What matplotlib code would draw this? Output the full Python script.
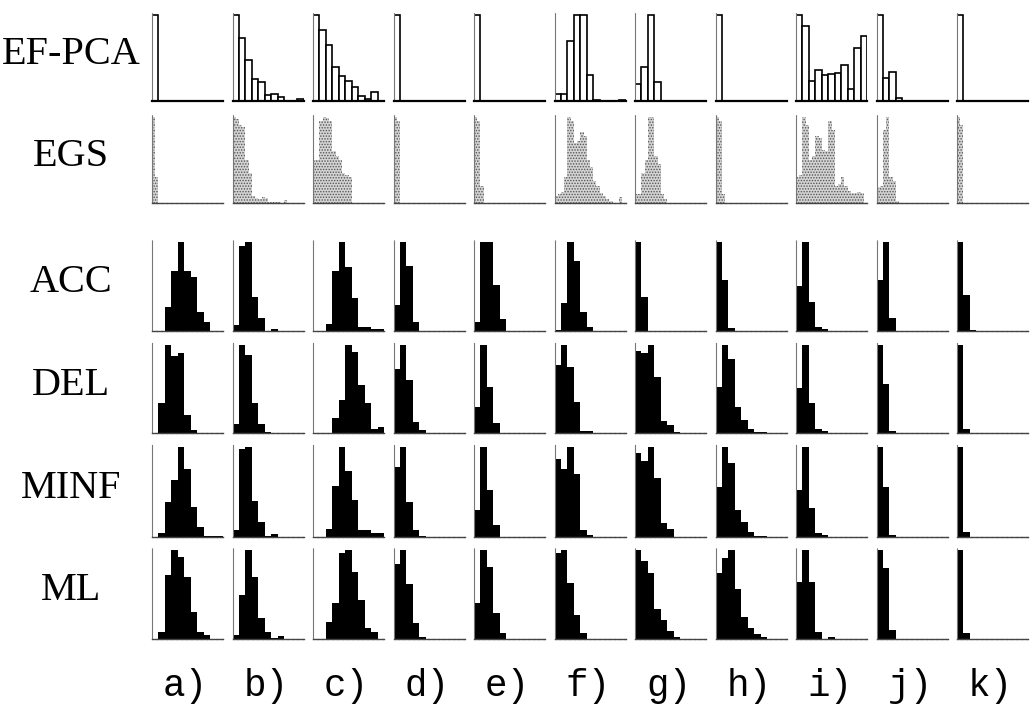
import numpy as np
import matplotlib.pyplot as plt

plt.rcParams['hatch.linewidth'] = 0.7

# row / column labels
methods = ['EF-PCA', 'EGS', 'ACC', 'DEL', 'MINF', 'ML']
columns = ['a)', 'b)', 'c)', 'd)', 'e)', 'f)', 'g)', 'h)', 'i)', 'j)', 'k)']

# relative bin heights (tallest bin = 1), 11 bins per panel
ef_pca = [
    [1.0, 0, 0, 0, 0, 0, 0, 0, 0, 0, 0],
    [1.0, 0.735, 0.47, 0.25, 0.22, 0.07, 0.085, 0.045, 0, 0, 0.02],
    [1.0, 0.82, 0.65, 0.39, 0.29, 0.235, 0.167, 0.057, 0.027, 0.10, 0],
    [1.0, 0, 0, 0, 0, 0, 0, 0, 0, 0, 0],
    [1.0, 0, 0, 0, 0, 0, 0, 0, 0, 0, 0],
    [0.083, 0.083, 0.69, 1.0, 1.0, 0.30, 0.015, 0, 0, 0, 0.015],
    [0.2, 0.39, 1.0, 0.22, 0, 0, 0, 0, 0, 0, 0],
    [1.0, 0, 0, 0, 0, 0, 0, 0, 0, 0, 0],
    [1.0, 0.87, 0.235, 0.356, 0.30, 0.31, 0.33, 0.42, 0.14, 0.62, 0.75],
    [1.0, 0.265, 0.34, 0.04, 0, 0, 0, 0, 0, 0, 0],
    [1.0, 0, 0, 0, 0, 0, 0, 0, 0, 0, 0],
]

# EGS uses finer bins (22 per panel)
egs = [
    [1.0, 0.3] + [0] * 20,
    [1.0, 0.97, 0.9, 0.88, 0.5, 0.35, 0.08, 0.06, 0.05, 0.07, 0.06,
     0.01, 0.01, 0.01, 0.01, 0, 0.03, 0, 0, 0, 0, 0],
    [0.5, 0.5, 0.95, 1.0, 0.98, 0.95, 0.6, 0.55, 0.5, 0.35, 0.33,
     0.3, 0, 0, 0, 0, 0, 0, 0, 0, 0, 0],
    [1.0, 0.95] + [0] * 20,
    [1.0, 0.95, 0.2] + [0] * 19,
    [0.08, 0.1, 0.13, 0.3, 1.0, 0.95, 0.7, 0.72, 0.82, 0.78, 0.5,
     0.42, 0.25, 0.2, 0.12, 0.08, 0.05, 0.02, 0, 0, 0.07, 0],
    [0.1, 0.1, 0.35, 0.5, 1.0, 1.0, 0.55, 0.45, 0.1, 0.05, 0,
     0, 0, 0, 0, 0, 0, 0, 0, 0, 0, 0],
    [1.0, 0.95, 0.1] + [0] * 19,
    [0.3, 0.32, 1.0, 0.9, 0.5, 0.55, 0.78, 0.75, 0.62, 0.6, 0.95,
     0.85, 0.2, 0.22, 0.3, 0.2, 0.14, 0.12, 0.12, 0.13, 0.12, 0],
    [0.18, 0.2, 0.85, 1.0, 0.3, 0.25, 0.02] + [0] * 15,
    [1.0, 0.9] + [0] * 20,
]

acc = [
    [0, 0, 0.27, 0.67, 1.0, 0.67, 0.6, 0.21, 0.1, 0, 0],
    [0.07, 0.95, 1.0, 0.385, 0.143, 0, 0.02, 0, 0, 0, 0],
    [0, 0, 0.075, 0.67, 1.0, 0.72, 0.37, 0.05, 0.05, 0.025, 0.02],
    [0.29, 1.0, 0.73, 0.1, 0, 0, 0, 0, 0, 0, 0],
    [0.1, 1.0, 1.0, 0.52, 0.13, 0, 0, 0, 0, 0, 0],
    [0.015, 0.31, 1.0, 0.78, 0.215, 0.04, 0, 0, 0, 0, 0],
    [1.0, 0.385, 0, 0, 0, 0, 0, 0, 0, 0, 0],
    [1.0, 0.57, 0.03, 0, 0, 0, 0, 0, 0, 0, 0],
    [0.5, 1.0, 0.32, 0.04, 0.02, 0, 0, 0, 0, 0, 0],
    [0.57, 1.0, 0.15, 0, 0, 0, 0, 0, 0, 0, 0],
    [1.0, 0.4, 0.015, 0, 0, 0, 0, 0, 0, 0, 0],
]

dele = [
    [0, 0.335, 1.0, 0.875, 0.91, 0.2, 0.03, 0, 0, 0, 0],
    [0.1, 1.0, 0.885, 0.335, 0.1, 0.01, 0, 0, 0, 0, 0],
    [0, 0, 0, 0.17, 0.37, 1.0, 0.92, 0.54, 0.335, 0.04, 0.07],
    [0.72, 1.0, 0.6, 0.13, 0.03, 0, 0, 0, 0, 0, 0],
    [0.3, 1.0, 0.525, 0.115, 0, 0, 0, 0, 0, 0, 0],
    [0.77, 1.0, 0.75, 0.35, 0.02, 0.02, 0, 0, 0, 0, 0],
    [0.935, 0.91, 1.0, 0.64, 0.137, 0.095, 0.01, 0, 0, 0, 0],
    [0.525, 1.0, 0.835, 0.3, 0.15, 0.04, 0.01, 0.01, 0, 0, 0],
    [0.515, 1.0, 0.335, 0.04, 0.02, 0, 0, 0, 0, 0, 0],
    [1.0, 0.555, 0.02, 0, 0, 0, 0, 0, 0, 0, 0],
    [1.0, 0.04, 0, 0, 0, 0, 0, 0, 0, 0, 0],
]

minf = [
    [0, 0.04, 0.39, 0.635, 1.0, 0.75, 0.33, 0.11, 0.01, 0.01, 0.01],
    [0.08, 0.98, 1.0, 0.4, 0.17, 0.01, 0.03, 0, 0, 0, 0],
    [0, 0, 0.09, 0.56, 1.0, 0.73, 0.415, 0.074, 0.074, 0.045, 0.045],
    [0.78, 1.0, 0.39, 0.074, 0.01, 0, 0, 0, 0, 0, 0],
    [0.3, 1.0, 0.525, 0.13, 0, 0, 0, 0, 0, 0, 0],
    [0.87, 0.75, 1.0, 0.70, 0.08, 0.026, 0, 0, 0, 0, 0],
    [0.926, 0.845, 1.0, 0.65, 0.15, 0.09, 0, 0, 0, 0, 0],
    [0.555, 1.0, 0.82, 0.30, 0.167, 0.055, 0.01, 0.01, 0, 0, 0],
    [0.525, 1.0, 0.326, 0.044, 0.026, 0, 0, 0, 0, 0, 0],
    [1.0, 0.555, 0.02, 0, 0, 0, 0, 0, 0, 0, 0],
    [1.0, 0.055, 0, 0, 0, 0, 0, 0, 0, 0, 0],
]

ml = [
    [0, 0.075, 0.714, 1.0, 0.92, 0.695, 0.305, 0.075, 0.045, 0, 0],
    [0.05, 0.49, 1.0, 0.695, 0.24, 0.075, 0.015, 0.033, 0, 0, 0],
    [0, 0, 0.19, 0.4, 0.96, 1.0, 0.75, 0.435, 0.12, 0.08, 0],
    [0.845, 1.0, 0.62, 0.175, 0.025, 0, 0, 0, 0, 0, 0],
    [0.40, 1.0, 0.81, 0.29, 0.063, 0, 0, 0, 0, 0, 0],
    [0.96, 1.0, 0.63, 0.27, 0.07, 0, 0, 0, 0, 0, 0],
    [1.0, 0.87, 0.74, 0.335, 0.215, 0.09, 0.02, 0, 0, 0, 0],
    [0.74, 0.91, 1.0, 0.56, 0.25, 0.12, 0.056, 0.026, 0, 0, 0],
    [0.64, 1.0, 0.64, 0.08, 0, 0.026, 0, 0, 0, 0, 0],
    [1.0, 0.795, 0.1, 0, 0, 0, 0, 0, 0, 0, 0],
    [1.0, 0.063, 0, 0, 0, 0, 0, 0, 0, 0, 0],
]

all_rows = [ef_pca, egs, acc, dele, minf, ml]

W, H = 1030, 704
fig = plt.figure(figsize=(W / 100, H / 100), dpi=100)

# panel layout in pixels
row_spans = [(13, 101), (115, 203), (240, 331), (343, 433), (445, 537), (548, 639)]
col_left0, col_step, panel_w = 152, 80.5, 71

for r, (name, row) in enumerate(zip(methods, all_rows)):
    top, bot = row_spans[r]
    for c, heights in enumerate(row):
        left = col_left0 + c * col_step
        ax = fig.add_axes([left / W, 1 - bot / H, panel_w / W, (bot - top) / H])
        n = len(heights)
        x = np.arange(n)
        if name == 'EF-PCA':
            ax.bar(x, heights, width=1, align='edge', facecolor='white',
                   edgecolor='black', linewidth=1.2)
        elif name == 'EGS':
            ax.bar(x, heights, width=1, align='edge', facecolor='#d4d4d4',
                   edgecolor='#555555', linewidth=0, hatch='......')
        else:
            ax.bar(x, heights, width=1, align='edge', color='black',
                   linewidth=0)
        ax.set_xlim(0, n)
        ax.set_ylim(0, 1.02)
        ax.set_xticks([])
        ax.set_yticks([])
        for s in ['top', 'right']:
            ax.spines[s].set_visible(False)
        ax.spines['left'].set_color('#777777')
        ax.spines['left'].set_linewidth(0.8)
        ax.spines['left'].set_linestyle((0, (1.5, 1)))
        if name == 'EF-PCA':
            ax.spines['bottom'].set_color('black')
            ax.spines['bottom'].set_linewidth(1.6)
        else:
            ax.spines['bottom'].set_color('#444444')
            ax.spines['bottom'].set_linewidth(1.0)
            ax.spines['bottom'].set_linestyle((0, (3, 0.6)))

    # row label
    mid = (top + bot) / 2
    fig.text(71 / W, 1 - (mid + 7) / H, name, ha='center', va='baseline',
             fontsize=29, family='Liberation Serif')

# column labels
for c, lab in enumerate(columns):
    cx = col_left0 + c * col_step + panel_w / 2 - 2
    fig.text(cx / W, 1 - 696 / H, lab, ha='center', va='baseline',
             fontsize=27, family='Liberation Mono')

fig.savefig('out.png', dpi=100, facecolor='white')
